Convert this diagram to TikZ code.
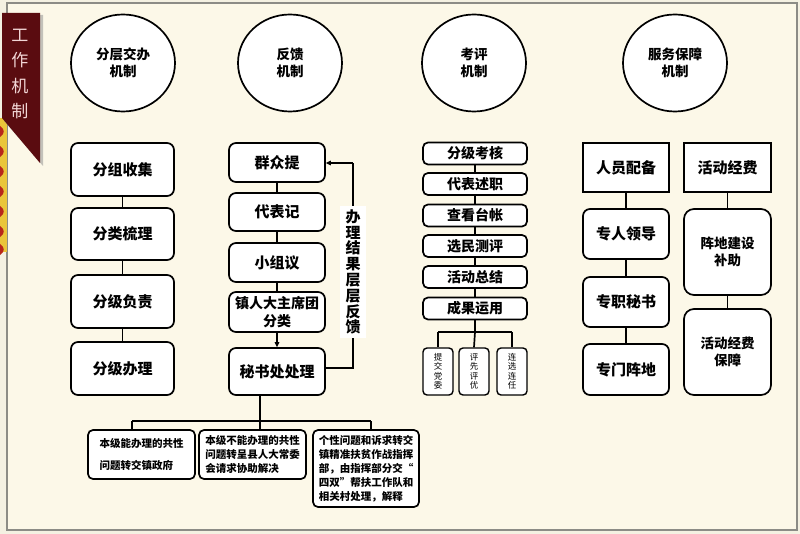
\documentclass[tikz,border=0pt]{standalone}
\usepackage{fontspec}
\newfontfamily\cjk{Noto Sans CJK SC}
\usetikzlibrary{arrows.meta,shapes.geometric}
\definecolor{bgc}{HTML}{FCF8E8}
\definecolor{outc}{HTML}{F4F1E2}
\definecolor{framec}{HTML}{8C8C86}
\definecolor{ribbon}{HTML}{5A0C10}
\definecolor{ribtext}{HTML}{F2D6D6}
\definecolor{patred}{HTML}{B8261A}
\definecolor{patyel}{HTML}{EAC53A}
\begin{document}
\begin{tikzpicture}[x=1pt,y=-1pt,
  lw/.style={line width=1.7pt},
  circ/.style={ellipse, draw, lw, fill=white, minimum width=104pt, minimum height=97pt, inner sep=0pt,
    align=center, font=\cjk\bfseries\fontsize{13.5}{17}\selectfont},
  bigbox/.style={draw, lw, fill=white, rounded corners=7pt, inner sep=0pt, align=center,
    font=\cjk\bfseries\fontsize{15}{18}\selectfont},
  sqbox/.style={bigbox, rounded corners=0pt},
  smbox/.style={draw, lw, fill=white, rounded corners=5pt, inner sep=0pt, align=center,
    minimum width=104pt, minimum height=22pt, font=\cjk\bfseries\fontsize{14}{16}\selectfont},
  tinybox/.style={draw, line width=1.4pt, fill=white, rounded corners=4pt, inner sep=0pt, align=center,
    minimum width=30pt, minimum height=47pt, font=\cjk\fontsize{8.5}{9.5}\selectfont},
  botbox/.style={draw, lw, fill=white, rounded corners=5pt, inner sep=0pt, align=left,
    minimum width=107pt, font=\cjk\bfseries\fontsize{10.5}{14}\selectfont},
  conn/.style={lw},
  arr/.style={lw, -{Triangle[length=5pt,width=4.5pt]}}
]
\useasboundingbox (0,0) rectangle (800,534);
% background and frame
\fill[outc] (0,0) rectangle (800,534);
\fill[bgc] (7,3) rectangle (797,530);
\draw[framec, line width=1.6pt] (7,3) rectangle (797,530);
% left decoration
\fill[patyel] (0,118) rectangle (6.5,252);
\foreach \yy in {126,146,166,186,206,226,244}{
  \fill[patred] (0,\yy) .. controls (5,\yy+3) and (5,\yy+8) .. (0,\yy+11) -- cycle;
}
% ribbon
\fill[black!45, opacity=0.5] (4,15) -- (43,15) -- (43,166) -- (4,121) -- cycle;
\fill[ribbon] (2,13) -- (40,13) -- (40,163) -- (2,118) -- cycle;
\node[text=ribtext, font=\cjk\fontsize{17}{25.5}\selectfont, align=center, inner sep=0pt] (rib) at (20,74) {工\\作\\机\\制};

% circles
\node[circ] (c1) at (123,63) {分层交办\\机制};
\node[circ] (c2) at (290,63) {反馈\\机制};
\node[circ] (c3) at (474,63) {考评\\机制};
\node[circ] (c4) at (675,63) {服务保障\\机制};

% column 1
\node[bigbox, minimum width=103pt, minimum height=53pt] (a1) at (122.5,169.5) {分组收集};
\node[bigbox, minimum width=103pt, minimum height=52pt] (a2) at (122.5,234) {分类梳理};
\node[bigbox, minimum width=103pt, minimum height=53pt] (a3) at (122.5,301.5) {分级负责};
\node[bigbox, minimum width=103pt, minimum height=53pt] (a4) at (122.5,368.5) {分级办理};
\draw[conn] (a1) -- (a2);
\draw[conn] (a2) -- (a3);
\draw[conn] (a3) -- (a4);

% column 2
\node[bigbox, minimum width=96pt, minimum height=39pt] (b1) at (277,162.5) {群众提};
\node[bigbox, minimum width=96pt, minimum height=38pt] (b2) at (277,212) {代表记};
\node[bigbox, minimum width=96pt, minimum height=39pt] (b3) at (277,262.5) {小组议};
\node[bigbox, minimum width=96pt, minimum height=40pt, font=\cjk\bfseries\fontsize{14}{18}\selectfont] (b4) at (277,312) {镇人大主席团\\分类};
\node[bigbox, minimum width=96pt, minimum height=47pt] (b5) at (277,371.5) {秘书处处理};
\draw[conn] (b1) -- (b2);
\draw[conn] (b2) -- (b3);
\draw[conn] (b3) -- (b4);
\draw[arr] (b4) -- (b5);
% feedback loop
\coordinate (fbtop) at (353,163);
\coordinate (fbbot) at (353,368);
\draw[conn] (b5.east |- fbbot) -- (fbbot) -- (fbtop);
\draw[arr] (fbtop) -- (b1.east |- fbtop);
\node[fill=white, inner sep=0pt, minimum width=26pt, minimum height=132pt, align=center,
  font=\cjk\bfseries\fontsize{15}{15.8}\selectfont] (fb) at (353,272) {办\\理\\结\\果\\层\\层\\反\\馈};

% bottom boxes
\node[botbox, minimum height=49pt, font=\cjk\bfseries\fontsize{10.5}{22}\selectfont] (d1) at (141.5,454.5) {本级能办理的共性\\问题转交镇政府};
\node[botbox, minimum height=49pt] (d2) at (252.5,454.5) {本级不能办理的共性\\问题转呈县人大常委\\会请求协助解决};
\node[botbox, minimum width=106pt, minimum height=77pt] (d3) at (366,468.5) {个性问题和诉求转交\\镇精准扶贫作战指挥\\部，由指挥部分交“\\四双”帮扶工作队和\\相关村处理，解释};
\coordinate (bj) at (260,421);
\coordinate (bl) at (132,421);
\coordinate (br) at (371,421);
\draw[conn] (bj |- b5.south) -- (bj);
\draw[conn] (bl) -- (br);
\draw[conn] (bl) -- (bl |- d1.north);
\draw[conn] (bj) -- (bj |- d2.north);
\draw[conn] (br) -- (br |- d3.north);

% column 3
\node[smbox] (e1) at (475,153.5) {分级考核};
\node[smbox] (e2) at (475,184) {代表述职};
\node[smbox] (e3) at (475,215.5) {查看台帐};
\node[smbox] (e4) at (475,246) {选民测评};
\node[smbox] (e5) at (475,277) {活动总结};
\node[smbox] (e6) at (475,308.5) {成果运用};
\draw[conn] (e1) -- (e2);
\draw[conn] (e2) -- (e3);
\draw[conn] (e3) -- (e4);
\draw[conn] (e4) -- (e5);
\draw[conn] (e5) -- (e6);
\node[tinybox] (f1) at (438,371.5) {提\\交\\党\\委};
\node[tinybox] (f2) at (474,371.5) {评\\先\\评\\优};
\node[tinybox] (f3) at (512,371.5) {连\\选\\连\\任};
\coordinate (ej) at (475,332);
\draw[conn] (e6) -- (ej);
\draw[conn] (f1.north |- ej) -- (f3.north |- ej);
\draw[conn] (f1.north |- ej) -- (f1.north);
\draw[conn] (ej) -- (f2.north);
\draw[conn] (f3.north |- ej) -- (f3.north);

% column 4
\node[sqbox, minimum width=86pt, minimum height=49pt] (g1) at (626,167.5) {人员配备};
\node[bigbox, minimum width=86pt, minimum height=50pt] (g2) at (626,234) {专人领导};
\node[bigbox, minimum width=86pt, minimum height=50pt] (g3) at (626,302) {专职秘书};
\node[bigbox, minimum width=86pt, minimum height=51pt] (g4) at (626,369.5) {专门阵地};
\draw[conn] (g1) -- (g2);
\draw[conn] (g2) -- (g3);
\draw[conn] (g3) -- (g4);
\node[sqbox, minimum width=87pt, minimum height=49pt] (h1) at (727.5,167.5) {活动经费};
\node[bigbox, rounded corners=10pt, minimum width=87pt, minimum height=86pt, font=\cjk\bfseries\fontsize{13.5}{17}\selectfont] (h2) at (727.5,252) {阵地建设\\补助};
\node[bigbox, rounded corners=10pt, minimum width=87pt, minimum height=86pt, font=\cjk\bfseries\fontsize{13.5}{17}\selectfont] (h3) at (727.5,352) {活动经费\\保障};
\draw[conn] (h1) -- (h2);
\draw[conn] (h2) -- (h3);
\end{tikzpicture}
\end{document}
